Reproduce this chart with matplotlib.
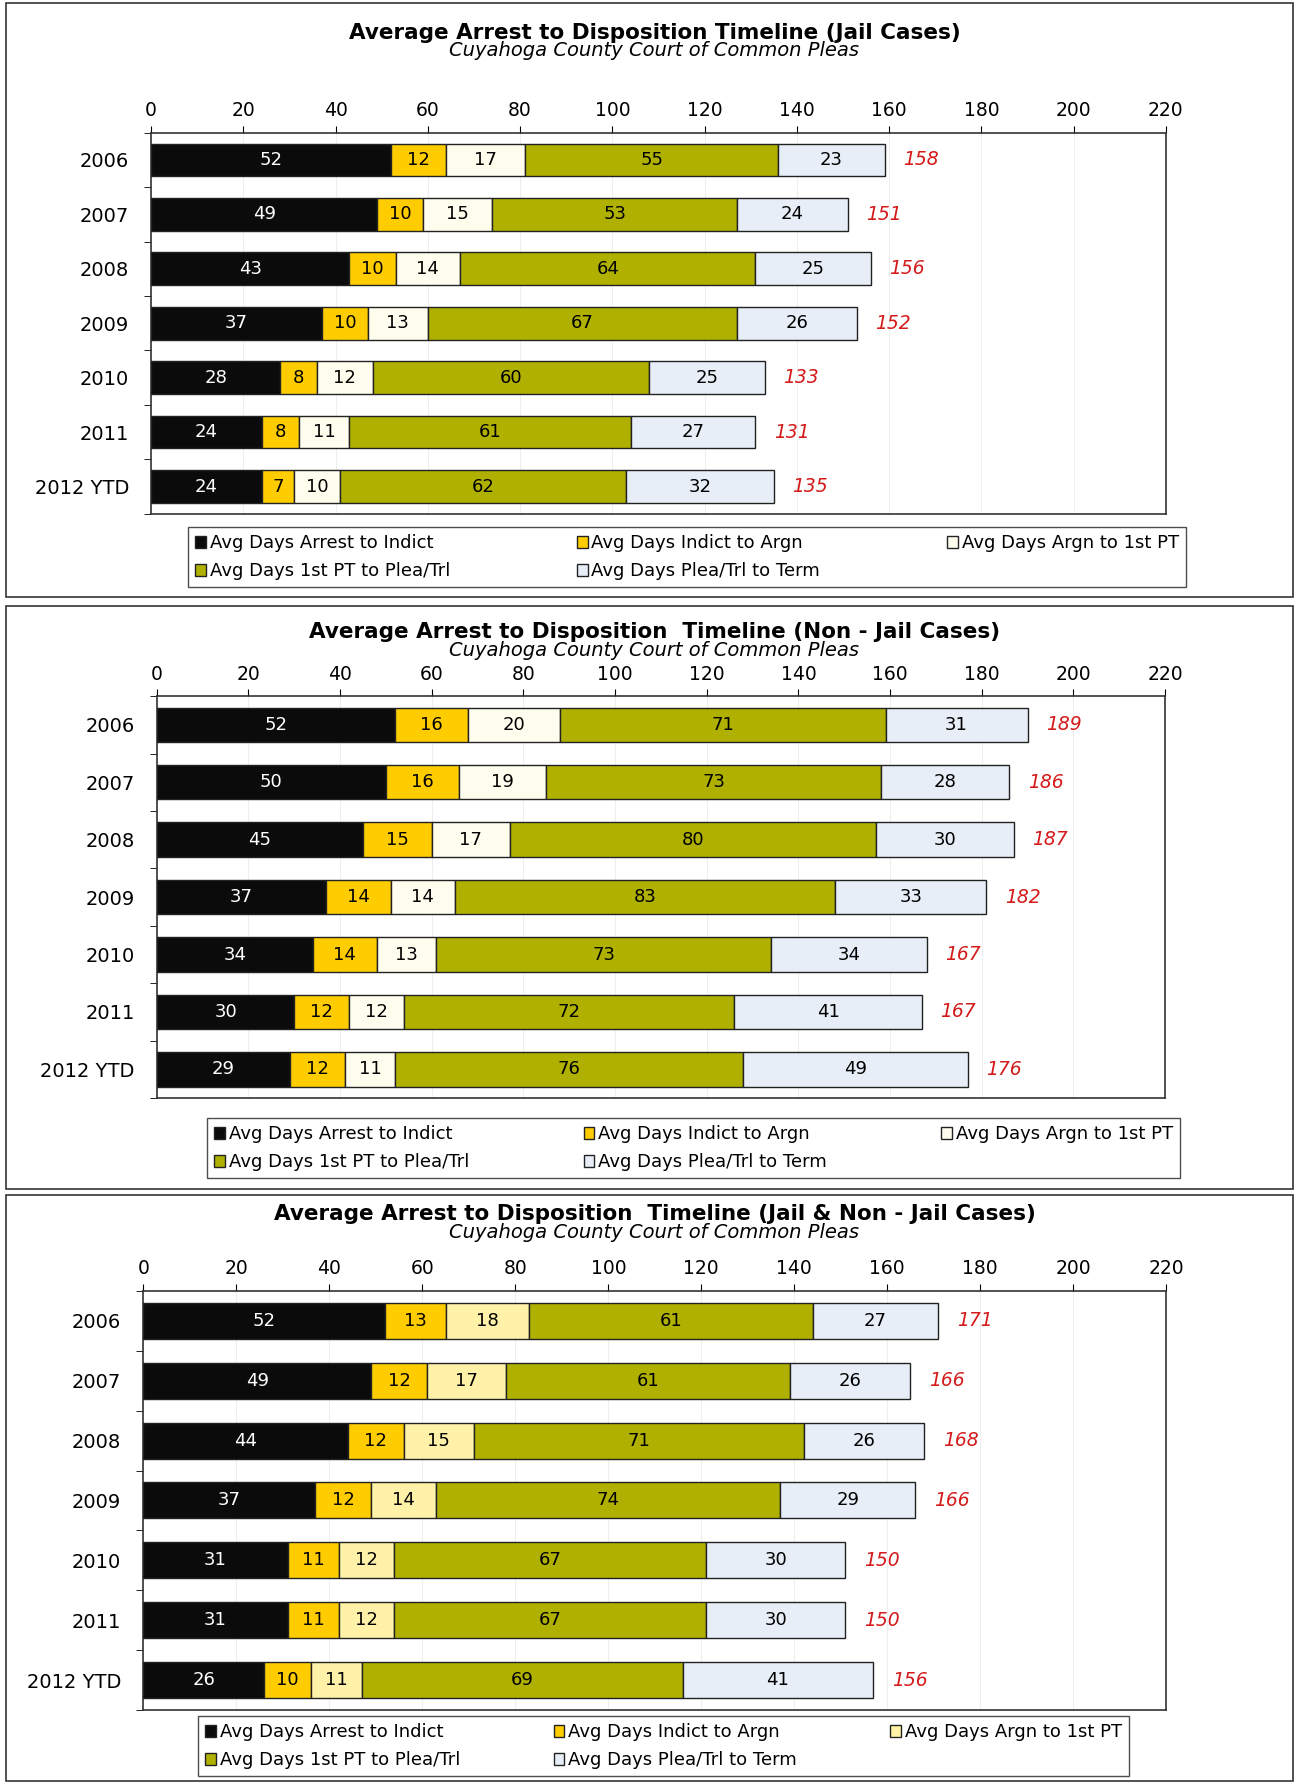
import numpy as np
import matplotlib
matplotlib.use("Agg")
import matplotlib.pyplot as plt
from matplotlib.patches import Rectangle, Patch

plt.rcParams['font.family'] = ['DejaVu Sans']

years = ['2006', '2007', '2008', '2009', '2010', '2011', '2012 YTD']
series_names = ['Avg Days Arrest to Indict', 'Avg Days Indict to Argn',
                'Avg Days Argn to 1st PT', 'Avg Days 1st PT to Plea/Trl',
                'Avg Days Plea/Trl to Term']

# Jail cases
jail_arrest = [52, 49, 43, 37, 28, 24, 24]
jail_indict = [12, 10, 10, 10, 8, 8, 7]
jail_argn = [17, 15, 14, 13, 12, 11, 10]
jail_plea = [55, 53, 64, 67, 60, 61, 62]
jail_term = [23, 24, 25, 26, 25, 27, 32]
jail_total = [158, 151, 156, 152, 133, 131, 135]

# Non-jail cases
nonjail_arrest = [52, 50, 45, 37, 34, 30, 29]
nonjail_indict = [16, 16, 15, 14, 14, 12, 12]
nonjail_argn = [20, 19, 17, 14, 13, 12, 11]
nonjail_plea = [71, 73, 80, 83, 73, 72, 76]
nonjail_term = [31, 28, 30, 33, 34, 41, 49]
nonjail_total = [189, 186, 187, 182, 167, 167, 176]

# Jail & non-jail cases
all_arrest = [52, 49, 44, 37, 31, 31, 26]
all_indict = [13, 12, 12, 12, 11, 11, 10]
all_argn = [18, 17, 15, 14, 12, 12, 11]
all_plea = [61, 61, 71, 74, 67, 67, 69]
all_term = [27, 26, 26, 29, 30, 30, 41]
all_total = [171, 166, 168, 166, 150, 150, 156]

titles = ['Average Arrest to Disposition Timeline (Jail Cases)',
          'Average Arrest to Disposition  Timeline (Non - Jail Cases)',
          'Average Arrest to Disposition  Timeline (Jail & Non - Jail Cases)']
subtitle = 'Cuyahoga County Court of Common Pleas'

BLACK = '#0b0b0b'
GOLD = '#FFCC00'
OLIVE = '#AFB000'
BLUE = '#E7EEF7'

panels = [
    dict(data=[jail_arrest, jail_indict, jail_argn, jail_plea, jail_term],
         total=jail_total, cream='#FFFDEE',
         ax=[0.1166, 0.712, 0.783, 0.2136], title_y=33, legend=(188, 527, 998)),
    dict(data=[nonjail_arrest, nonjail_indict, nonjail_argn, nonjail_plea, nonjail_term],
         total=nonjail_total, cream='#FFFDEE',
         ax=[0.121, 0.3845, 0.778, 0.2253], title_y=632, legend=(207, 1118, 973)),
    dict(data=[all_arrest, all_indict, all_argn, all_plea, all_term],
         total=all_total, cream='#FFF1A8',
         ax=[0.1107, 0.0415, 0.7891, 0.2349], title_y=1214, legend=(198, 1716, 931)),
]

W, H = 1296, 1784
fig = plt.figure(figsize=(W / 100, H / 100), dpi=100)

# panel frames
for top, bot in [(3, 597), (606, 1189), (1195, 1781)]:
    fig.add_artist(Rectangle((6 / W, 1 - bot / H), 1287 / W, (bot - top) / H,
                             transform=fig.transFigure, fill=False,
                             edgecolor='#333333', lw=1.2))

for p in panels:
    colors = [BLACK, GOLD, p['cream'], OLIVE, BLUE]
    ax = fig.add_axes(p['ax'])
    y = np.arange(len(years))
    left = np.zeros(len(years))
    for i, vals in enumerate(p['data']):
        vals = np.array(vals)
        ax.barh(y, vals, left=left, height=0.6, color=colors[i],
                edgecolor='#222222', linewidth=1.0, zorder=3)
        for yy, l, v in zip(y, left, vals):
            ax.text(l + v / 2, yy, str(v), ha='center', va='center',
                    fontsize=13, color='white' if i == 0 else 'black', zorder=4)
        left = left + vals
    for yy, l, t in zip(y, left, p['total']):
        ax.text(l + 4, yy, str(t), ha='left', va='center', fontsize=13.5,
                color='#D41A1A', style='italic', zorder=4)

    ax.set_xlim(0, 220)
    ax.set_ylim(len(years) - 0.5, -0.5)
    ax.set_xticks(np.arange(0, 221, 20))
    ax.xaxis.tick_top()
    ax.tick_params(axis='x', labelsize=13.5, length=5, direction='out', pad=4)
    ax.set_yticks(y)
    ax.set_yticklabels(years)
    ax.set_yticks(np.arange(-0.5, len(years), 1), minor=True)
    ax.tick_params(axis='y', which='major', length=0, labelsize=14, pad=16)
    ax.tick_params(axis='y', which='minor', length=5, direction='out')
    ax.grid(axis='x', color='#eeeeee', lw=0.8, zorder=0)
    for s in ax.spines.values():
        s.set_color('#333333')
        s.set_linewidth(1.2)

    # legend, read row by row like the original
    lx, ly, lw_ = p['legend']
    handles = [Patch(facecolor=c, edgecolor='#222222', label=n)
               for c, n in zip(colors, series_names)]
    order = [0, 3, 1, 4, 2]
    fig.legend([handles[k] for k in order], [series_names[k] for k in order],
               ncol=3, loc='upper center',
               bbox_to_anchor=(lx / W, 1 - ly / H, lw_ / W, 0),
               bbox_transform=fig.transFigure, mode='expand', frameon=True,
               fancybox=False, edgecolor='#222222', fontsize=13,
               handlelength=0.6, handleheight=0.6, handletextpad=0.2,
               columnspacing=0.8, borderaxespad=0, labelspacing=0.55,
               borderpad=0.4)

for p, t in zip(panels, titles):
    ty = p['title_y']
    fig.text(0.505, 1 - ty / H, t, ha='center', va='center',
             fontsize=15.5, fontweight='bold')
    fig.text(0.505, 1 - (ty + 18) / H, subtitle, ha='center', va='center',
             fontsize=14, style='italic')

fig.savefig('out.png', dpi=100)
